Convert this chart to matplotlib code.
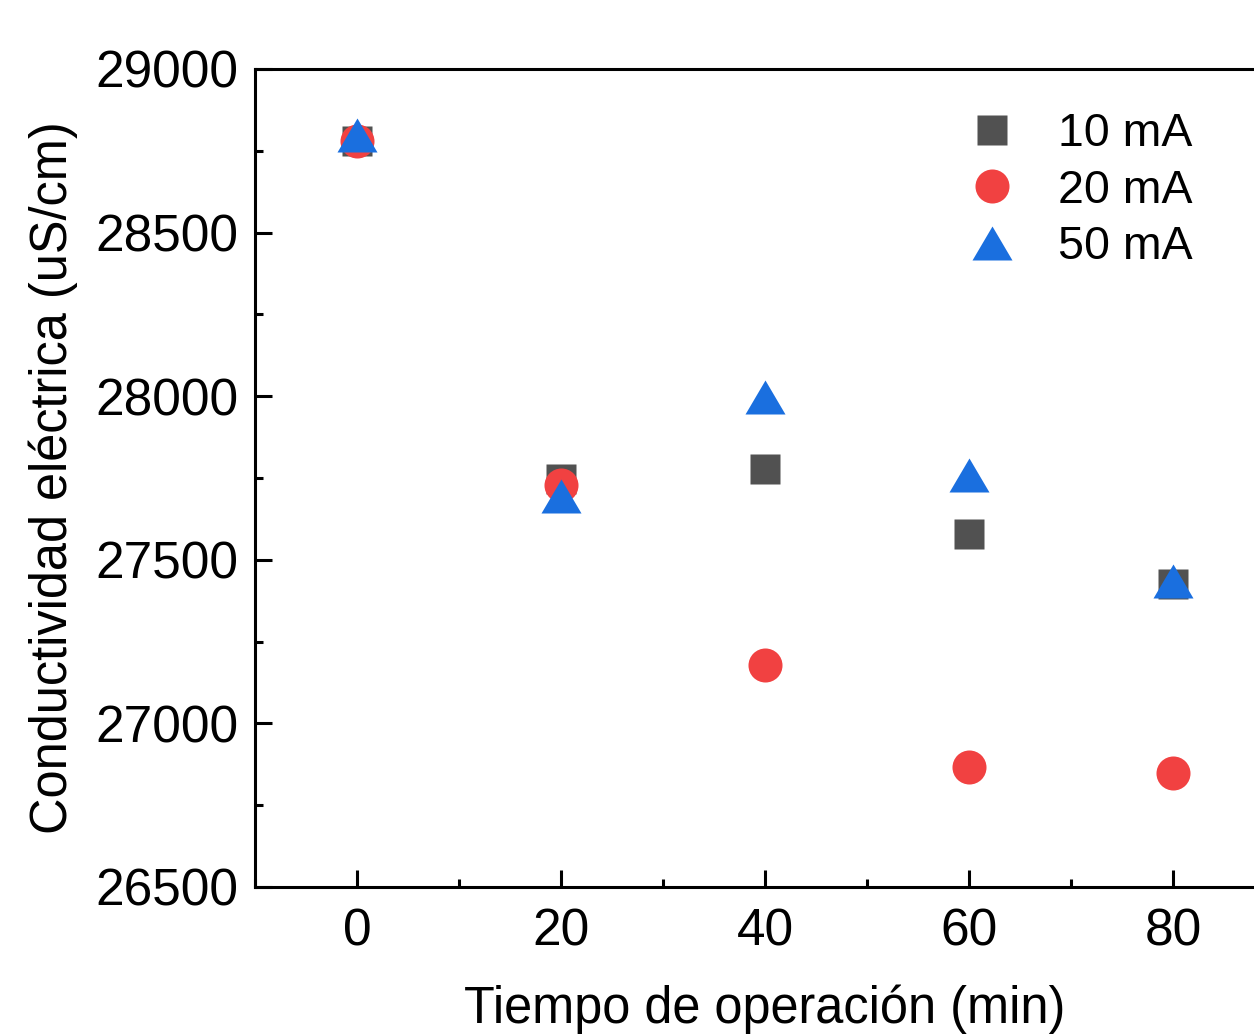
import matplotlib
matplotlib.use("Agg")
import matplotlib.pyplot as plt
from matplotlib.ticker import MultipleLocator

plt.rcParams['font.family'] = ['Liberation Sans', 'DejaVu Sans']

# data
tiempo = [0, 20, 40, 60, 80]
cond_10mA = [28780, 27747, 27777, 27579, 27426]
cond_20mA = [28781, 27729, 27178, 26868, 26849]
cond_50mA = [28797, 27695, 27998, 27760, 27434]

# wide, slightly flat triangle like the original
tri = [(0, 0.85), (-1, -0.85), (1, -0.85), (0, 0.85)]

fig = plt.figure(figsize=(12.54, 10.34), dpi=100)
ax = fig.add_axes([0.2033, 0.1422, 0.8134, 0.7911])

ax.plot(tiempo, cond_10mA, ls='none', marker='s', ms=21.6, color='#515151',
        mec='none', label='10 mA')
ax.plot(tiempo, cond_20mA, ls='none', marker='o', ms=24.5, color='#F14141',
        mec='none', label='20 mA')
ax.plot(tiempo, cond_50mA, ls='none', marker=tri, ms=28.8, color='#1A6FDF',
        mec='none', label='50 mA')

ax.set_xlim(-10, 90)
ax.set_ylim(26500, 29000)
ax.xaxis.set_major_locator(MultipleLocator(20))
ax.xaxis.set_minor_locator(MultipleLocator(10))
ax.yaxis.set_major_locator(MultipleLocator(500))
ax.yaxis.set_minor_locator(MultipleLocator(250))

for s in ax.spines.values():
    s.set_linewidth(2.2)
ax.tick_params(which='both', direction='in', width=2.2, labelsize=37)
ax.tick_params(which='major', length=12)
ax.tick_params(which='minor', length=6)
ax.tick_params(axis='x', pad=15)
ax.tick_params(axis='y', pad=12)

ax.set_xlabel('Tiempo de operación (min)', fontsize=36.4, labelpad=20)
ax.set_ylabel('Conductividad eléctrica (uS/cm)', fontsize=36.4, labelpad=12)

ax.legend(loc='upper left', bbox_to_anchor=(0.774, 0.8917),
          bbox_transform=fig.transFigure, frameon=False, fontsize=33.5,
          handlelength=0.9, handletextpad=0.97, labelspacing=0.27,
          borderpad=0, borderaxespad=0)

fig.savefig('out.png', dpi=100)
